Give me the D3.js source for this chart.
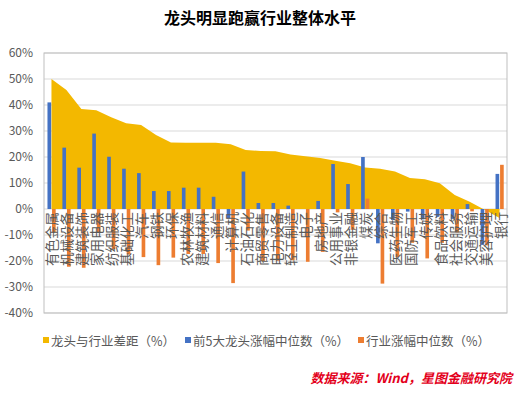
<!doctype html>
<html lang="zh">
<head>
<meta charset="utf-8">
<title>龙头明显跑赢行业整体水平</title>
<script src="https://d3js.org/d3.v7.min.js"></script>
<style>
  body { margin: 0; background: #fff; }
  svg text { font-family: "Noto Sans CJK SC", "Noto Sans", sans-serif; }
</style>
</head>
<body>
<svg id="chart" width="520" height="396"></svg>
<script>
  // industries, sorted by gap
  var categories = ["有色金属","机械设备","建筑装饰","家用电器","纺织服装","基础化工","汽车","钢铁","环保","农林牧渔",
    "建筑材料","通信","计算机","石油石化","商贸零售","电力设备","轻工制造","电子","房地产","公用事业",
    "非银金融","煤炭","综合","医药生物","国防军工","传媒","食品饮料","社会服务","交通运输","美容护理","银行"];

  // 龙头与行业差距（%）
  var gap = [50, 45.8, 38.5, 38, 35.3, 33, 32.3, 28.5, 25.6, 25.5,
    25.5, 25.5, 24.9, 22.7, 22.3, 22.2, 21, 20.3, 19.6, 18.6,
    17.6, 16, 15.5, 14.4, 11.9, 11.4, 9.9, 5.4, 2.8, -0.3, -3.5];

  // 前5大龙头涨幅中位数（%）
  var leaders = [41, 23.6, 15.9, 29, 20.1, 15.5, 13.8, 6.9, 6.9, 8.2,
    8.2, 4.7, -3.6, 14.4, 2.3, 2.3, 1.3, 0, 3.1, 17.3,
    9.6, 20, -13.2, -4.2, -1, -4, -3, -3.8, 1.9, -13.8, 13.5];

  // 行业涨幅中位数（%）
  var industry = [-9, -22.2, -22.6, -9, -15.5, -17.5, -18.5, -21.6, -18.7, -17.3,
    -17.3, -20.8, -28.5, -8.3, -20, -19.9, -19.7, -20.3, -16.5, -1.3,
    -8, 4, -28.7, -18.5, -13, -19, -13, -9, -0.9, -14, 17];

  var yTicks = [60, 50, 40, 30, 20, 10, 0, -10, -20, -30, -40];

  var legendNames = ["龙头与行业差距（%）", "前5大龙头涨幅中位数（%）", "行业涨幅中位数（%）"];
  var colors = ["#F3B800", "#4472C4", "#ED7D31"];

  var plotL = 44, plotR = 507, plotT = 53, plotB = 313;

  var svg = d3.select("#chart");

  var x = d3.scaleBand().domain(categories).range([plotL, plotR]).padding(0);
  var y = d3.scaleLinear().domain([-40, 60]).range([plotB, plotT]);
  var sub = d3.scaleBand().domain(["leaders", "industry"]).range([-4, 4.2]).paddingInner(0.2);

  // title
  svg.append("text")
    .attr("x", 260).attr("y", 24)
    .attr("text-anchor", "middle")
    .attr("font-size", 16).attr("font-weight", "bold")
    .attr("fill", "#000")
    .text("龙头明显跑赢行业整体水平");

  // gridlines
  svg.append("g").selectAll("line")
    .data(yTicks)
    .join("line")
    .attr("x1", plotL).attr("x2", plotR)
    .attr("y1", function(d) { return y(d); })
    .attr("y2", function(d) { return y(d); })
    .attr("stroke", "#D9D9D9").attr("stroke-width", 1);

  // y axis labels
  var yAxis = d3.axisLeft(y).tickValues(yTicks).tickSize(0).tickPadding(11)
    .tickFormat(function(d) { return d + "%"; });
  var ya = svg.append("g").attr("transform", "translate(" + plotL + ",0)").call(yAxis);
  ya.select(".domain").remove();
  ya.selectAll("text").attr("font-size", 12).attr("fill", "#595959")
    .attr("font-family", "'Noto Sans CJK SC', sans-serif");

  var cx = function(i) { return x(categories[i]) + x.bandwidth() / 2; };

  // area
  var area = d3.area()
    .x(function(d, i) { return cx(i); })
    .y0(y(0))
    .y1(function(d) { return y(d); });
  svg.append("path")
    .datum(gap)
    .attr("d", area)
    .attr("fill", colors[0]);

  // bars
  function bars(values, key, color) {
    svg.append("g").selectAll("rect")
      .data(values)
      .join("rect")
      .attr("x", function(d, i) { return cx(i) + sub(key); })
      .attr("width", sub.bandwidth())
      .attr("y", function(d) { return y(Math.max(0, d)); })
      .attr("height", function(d) { return Math.abs(y(d) - y(0)); })
      .attr("fill", color);
  }
  bars(leaders, "leaders", colors[1]);
  bars(industry, "industry", colors[2]);

  // plot border
  svg.append("rect")
    .attr("x", plotL).attr("y", plotT)
    .attr("width", plotR - plotL).attr("height", plotB - plotT)
    .attr("fill", "none").attr("stroke", "#BFBFBF").attr("stroke-width", 1);

  // category labels, rotated, next to the zero line
  svg.append("g").selectAll("text")
    .data(categories)
    .join("text")
    .attr("transform", function(d, i) { return "translate(" + cx(i) + "," + (y(0) + 3) + ") rotate(-90)"; })
    .attr("text-anchor", "end")
    .attr("dominant-baseline", "central")
    .attr("font-size", 13.5)
    .attr("fill", "#595959")
    .text(function(d) { return d; });

  // legend
  var legendX = [43, 185, 358];
  var lg = svg.append("g").selectAll("g")
    .data(legendNames)
    .join("g")
    .attr("transform", function(d, i) { return "translate(" + legendX[i] + ",340)"; });
  lg.append("rect")
    .attr("x", 0).attr("y", -3).attr("width", 6).attr("height", 6)
    .attr("fill", function(d, i) { return colors[i]; });
  lg.append("text")
    .attr("x", 8).attr("y", 0)
    .attr("dominant-baseline", "central")
    .attr("font-size", 12.5).attr("fill", "#595959")
    .text(function(d) { return d; });

  // source
  svg.append("text")
    .attr("x", 512).attr("y", 383)
    .attr("text-anchor", "end")
    .attr("font-size", 13).attr("font-style", "italic").attr("font-weight", "bold")
    .attr("fill", "#E3001B")
    .text("数据来源：Wind，星图金融研究院");
</script>
</body>
</html>
